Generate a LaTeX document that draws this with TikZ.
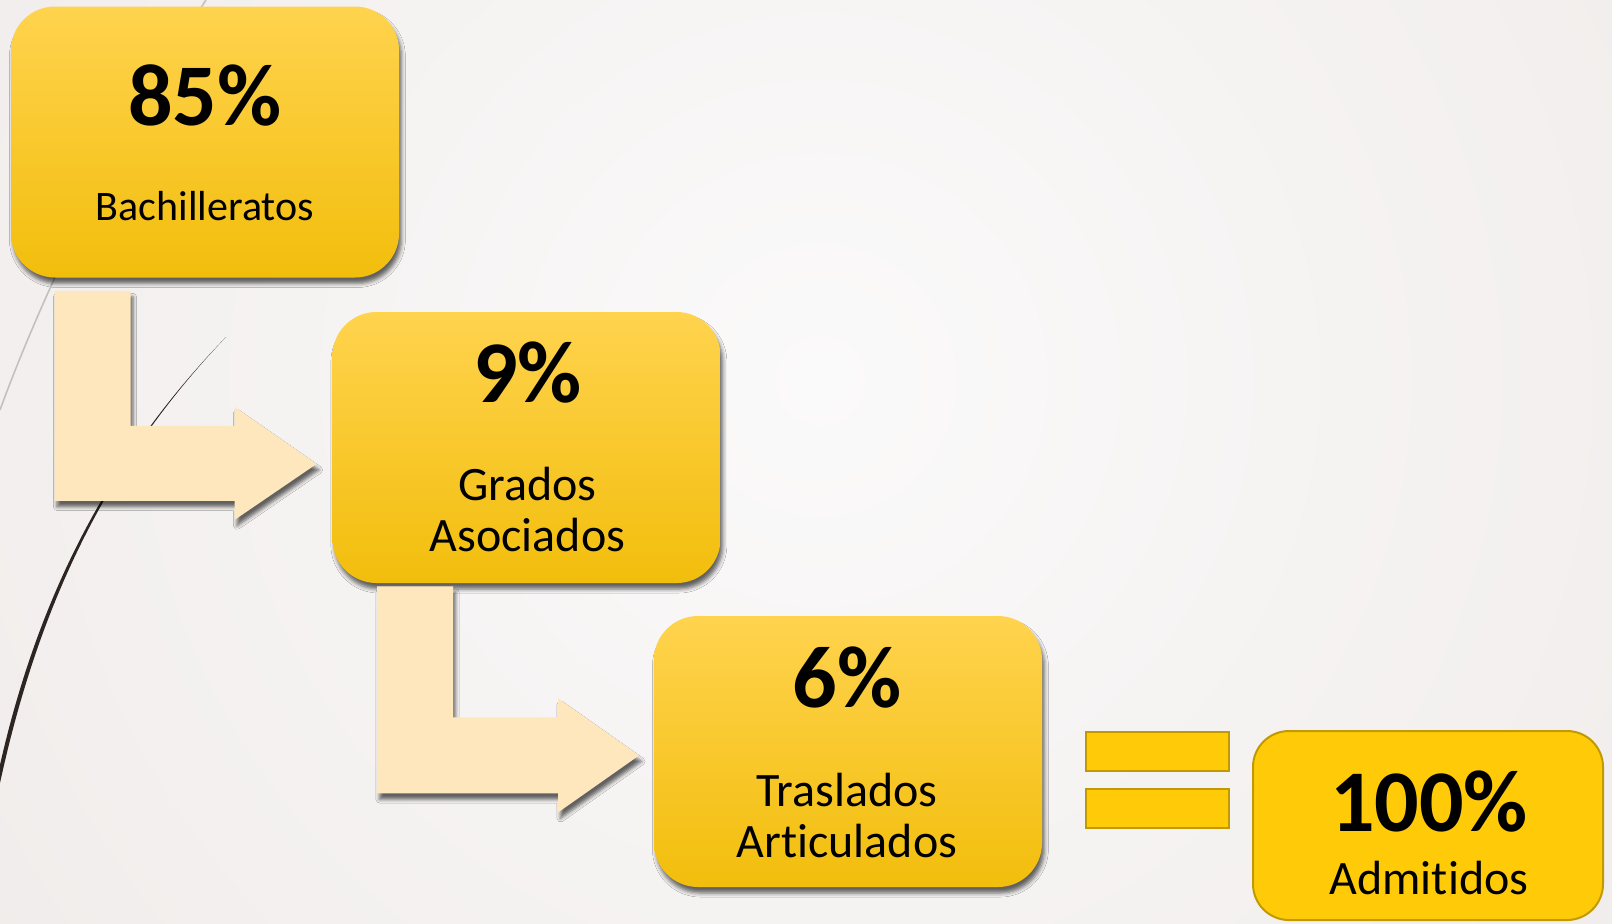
\documentclass[tikz,border=0pt]{standalone}
\usepackage{fontspec}
\setmainfont{Carlito}[Ligatures=NoCommon]
\usetikzlibrary{shadows.blur}

\definecolor{boxtop}{RGB}{255,211,78}
\definecolor{boxbot}{RGB}{242,190,12}
\definecolor{arrowfill}{RGB}{254,231,188}
\definecolor{goldfill}{RGB}{255,203,8}
\definecolor{goldline}{RGB}{192,154,0}
\definecolor{bgin}{RGB}{251,250,250}
\definecolor{bgout}{RGB}{229,223,220}
\definecolor{swoosh}{RGB}{44,37,34}
\definecolor{thinline}{RGB}{196,192,190}

\tikzset{
  stepbox/.style={rounded corners=22pt, minimum width=194pt, minimum height=135.5pt, inner sep=0pt,
    top color=boxtop, bottom color=boxbot,
    blur shadow={shadow xshift=1.2pt, shadow yshift=-3pt, shadow blur radius=2pt, shadow opacity=60}},
  totalbox/.style={rounded corners=18pt, minimum width=175pt, minimum height=94.5pt, inner sep=0pt,
    fill=goldfill, draw=goldline, line width=1pt},
  eqbar/.style={minimum width=71.5pt, minimum height=19.5pt, inner sep=0pt,
    fill=goldfill, draw=goldline, line width=1pt},
  pct/.style={font=\fontsize{44}{48}\selectfont\bfseries, anchor=base},
  lbl/.style={font=\fontsize{24}{25.5}\selectfont, align=center, anchor=base},
  bentarrow/.style={fill=arrowfill,
    blur shadow={shadow xshift=1.2pt, shadow yshift=-3pt, shadow blur radius=1.8pt, shadow opacity=60}}
}

\begin{document}
\begin{tikzpicture}[x=0.5pt,y=-0.5pt]
\useasboundingbox (0,0) rectangle (1612,923);
\begin{scope}
\clip (0,0) rectangle (1612,923);
\shade[inner color=bgin, outer color=bgout] (820,380) circle (2000);
\draw[thinline, line width=0.8pt] (206,0) .. controls (120,130) and (40,300) .. (0,410);
\fill[swoosh] (226,337) .. controls (102,467) and (37,613) .. (0,783) -- (-4,783) .. controls (32,613) and (100,467) .. (226,337) -- cycle;
\end{scope}

\node[stepbox] (bach) at (205,142) {};
\node[stepbox] (grad) at (526.5,447.5) {};
\node[stepbox] (tras) at (848,751.5) {};
\node[totalbox] (adm) at (1428,825.5) {};
\node[eqbar] (eqa) at (1157.5,751.5) {};
\node[eqbar] (eqb) at (1157.5,808.5) {};

\fill[bentarrow] (bach.south west) ++(44,13) -- ++(76,0) -- ++(0,135) -- ++(104,0) -- ++(0,-19)
  -- ++(82,57) -- ++(-82,56) -- ++(0,-19) -- ++(-180,0) -- cycle;
\fill[bentarrow] (grad.south west) ++(45,3) -- ++(76,0) -- ++(0,131) -- ++(105,0) -- ++(0,-19)
  -- ++(81,57) -- ++(-81,57) -- ++(0,-19) -- ++(-181,0) -- cycle;

\node[pct] (pbach) at (205,125) {85\%};
\node[lbl, font=\fontsize{21}{24}\selectfont] (lbach) at (205,220) {Bachilleratos};
\node[pct] (pgrad) at (527.5,402) {9\%};
\node[lbl] (lgrad) at (527.5,551) {Grados\\Asociados};
\node[pct] (ptras) at (847,707) {6\%};
\node[lbl] (ltras) at (847,857) {Traslados\\Articulados};
\node[pct] (padm) at (1429,831) {100\%};
\node[lbl] (ladm) at (1429,894) {Admitidos};
\end{tikzpicture}
\end{document}
